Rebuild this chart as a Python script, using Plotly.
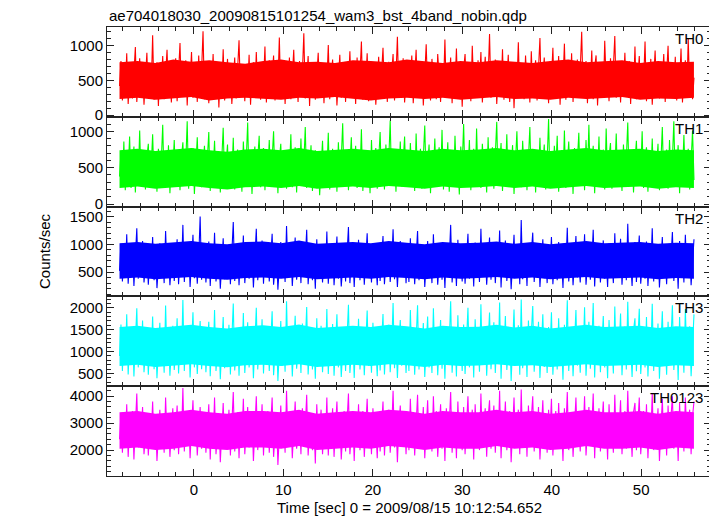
import plotly.graph_objects as go
from plotly.subplots import make_subplots

# Bin timing (evenly spaced light-curve bins, seconds)
t_start = -8.3
t_step = 0.1609
# Dense-core envelope, one value every ~2 s
env_step = 2.006

band_names = ["TH0", "TH1", "TH2", "TH3", "TH0123"]
band_colors = ["#ff0000", "#00ff00", "#0000ff", "#00ffff", "#ff00ff"]

th0 = [420, 780, 210, 650, 330, 890, 160, 560, 720, 240, 610, 980, 190, 470, 820, 280, 700, 150, 540, 900,
       260, 640, 370, 1150, 220, 580, 760, 130, 690, 410, 850, 230, 520, 940, 300, 610, 180, 730, 450, 820,
       200, 560, 1040, 270, 680, 350, 790, 140, 620, 480, 910, 250, 570, 700, 190, 860, 320, 640, 1210, 230,
       510, 770, 170, 600, 420, 880, 260, 530, 740, 110, 660, 390, 950, 210, 580, 810, 290, 690, 160, 520,
       830, 240, 620, 1080, 300, 560, 720, 200, 650, 380, 870, 150, 590, 760, 270, 910, 340, 530, 220, 700,
       450, 990, 180, 610, 790, 260, 540, 860, 210, 670, 430, 1120, 250, 580, 720, 160, 640, 370, 830, 230,
       560, 940, 290, 650, 190, 780, 420, 600, 1180, 240, 520, 850, 130, 690, 360, 760, 220, 610, 900, 280,
       590, 730, 170, 640, 460, 1010, 230, 570, 800, 300, 680, 140, 620, 870, 250, 540, 760, 190, 660, 410,
       920, 270, 600, 710, 160, 830, 350, 580, 1060, 220, 640, 480, 890, 200, 560, 740, 290, 680, 150, 610,
       840, 240, 530, 970, 310, 650, 190, 770, 420, 600, 880, 210, 560, 1130, 270, 690, 380, 820, 180, 520,
       300, 720, 480, 860, 170, 590, 940, 260, 650, 390, 780, 140, 570, 1020, 330, 690, 210, 810, 460, 610,
       230, 880, 550, 190, 740, 360, 1090, 280, 620, 500, 830, 170, 700, 410, 960, 240, 580, 750, 120, 660,
       880, 310, 540, 720, 200, 1000, 380, 640, 260, 790, 450, 910, 180, 610, 840, 290, 530, 1170, 250, 680,
       420, 800, 160, 570, 730, 340, 950, 220, 660, 480, 870, 190, 590, 760, 100, 640, 400, 1050, 270, 560,
       710, 230, 860, 440, 620, 180, 920, 350, 580, 790, 210, 690, 1110, 260, 540, 830, 300, 650, 170, 770,
       520, 970, 240, 610, 380, 850, 150, 700, 460, 1030, 220, 590, 740, 310, 890, 190, 630, 510, 800, 250,
       660, 1200, 280, 540, 780, 170, 620, 430, 930, 230, 690, 860, 140, 570, 350, 760, 260, 1070, 470, 600,
       200, 820, 390, 680, 1140, 250, 560, 740, 180, 650, 420, 900, 290, 610, 780, 160, 710, 340, 990, 230,
       580, 850, 270, 630, 470, 1060, 200, 690, 370, 810, 150, 540, 930, 320, 660, 240, 770, 500, 880, 190,
       620, 1000, 260, 570, 720, 330, 840, 210, 650, 450, 960, 180, 600, 790, 280, 1100, 360, 700, 230, 540]

th1 = [380, 720, 250, 860, 190, 610, 450, 930, 220, 570, 790, 160, 680, 340, 1010, 270, 590, 740, 200, 650,
       830, 230, 510, 960, 300, 620, 170, 760, 410, 580, 1090, 240, 690, 360, 810, 150, 600, 470, 880, 260,
       540, 700, 190, 640, 850, 280, 560, 1140, 210, 620, 390, 770, 140, 590, 920, 310, 670, 230, 540, 800,
       250, 610, 990, 180, 660, 430, 870, 270, 530, 720, 160, 640, 1050, 290, 580, 820, 220, 700, 380, 910,
       200, 560, 750, 330, 640, 170, 860, 420, 600, 1120, 260, 690, 140, 580, 790, 310, 620, 940, 230, 510,
       770, 190, 650, 400, 880, 240, 560, 1000, 300, 680, 150, 610, 830, 270, 570, 720, 210, 640, 450, 960,
       230, 590, 780, 160, 700, 350, 900, 260, 550, 1060, 220, 630, 480, 810, 180, 600, 740, 290, 660, 120,
       570, 870, 250, 620, 410, 980, 200, 580, 760, 300, 690, 170, 850, 360, 610, 1110, 240, 560, 720, 190,
       640, 920, 280, 530, 800, 220, 670, 390, 1030, 180, 590, 740, 260, 630, 150, 880, 340, 600, 770, 210,
       560, 990, 300, 650, 200, 820, 430, 610, 1150, 250, 580, 710, 170, 690, 370, 860, 240, 540, 930, 280,
       610, 250, 840, 390, 700, 180, 970, 320, 590, 760, 210, 640, 1080, 280, 560, 820, 150, 690, 430, 900,
       240, 620, 780, 330, 1020, 200, 660, 470, 850, 170, 580, 730, 260, 940, 380, 610, 130, 790, 520, 1100,
       290, 650, 420, 880, 190, 600, 760, 250, 1040, 340, 690, 220, 830, 480, 570, 160, 920, 300, 640, 780,
       210, 710, 1130, 270, 560, 840, 180, 620, 390, 960, 240, 680, 510, 810, 140, 590, 1000, 320, 660, 230,
       870, 440, 600, 190, 750, 1060, 280, 540, 700, 160, 650, 380, 910, 250, 620, 820, 200, 580, 1170, 310,
       690, 230, 800, 470, 940, 170, 610, 740, 300, 1010, 220, 570, 860, 350, 680, 140, 770, 440, 590, 980,
       260, 630, 720, 190, 880, 410, 1090, 280, 560, 800, 150, 670, 360, 930, 240, 600, 750, 200, 1040, 330,
       650, 840, 210, 580, 460, 970, 270, 700, 540, 180, 820, 390, 620, 1120, 250, 660, 730, 160, 590, 870,
       300, 710, 430, 1000, 220, 640, 780, 170, 600, 350, 900, 260, 690, 520, 830, 190, 570, 1060, 280, 640,
       750, 210, 880, 370, 610, 1140, 240, 560, 810, 150, 680, 420, 950, 290, 620, 760, 200, 590, 1010, 330]

th2 = [520, 1010, 330, 840, 420, 1180, 290, 760, 610, 950, 250, 700, 1290, 380, 820, 460, 1060, 310, 690, 880,
       270, 750, 540, 1130, 350, 900, 210, 680, 1020, 400, 790, 300, 1240, 520, 860, 260, 710, 980, 340, 620,
       1090, 280, 730, 470, 1350, 320, 810, 600, 960, 230, 670, 1170, 390, 850, 290, 740, 1500, 360, 640, 910,
       310, 720, 1050, 250, 780, 440, 1210, 330, 690, 870, 200, 640, 1110, 370, 800, 520, 990, 280, 760, 1400,
       340, 680, 930, 260, 820, 480, 1160, 300, 710, 1030, 380, 640, 870, 220, 750, 1280, 350, 690, 560, 1070,
       290, 810, 420, 950, 330, 700, 1190, 270, 660, 880, 180, 730, 1040, 410, 790, 320, 1330, 460, 680, 920,
       250, 770, 1120, 360, 640, 850, 300, 1010, 440, 720, 1260, 280, 690, 910, 350, 780, 200, 1090, 500, 670,
       980, 310, 740, 420, 1230, 290, 810, 610, 1000, 260, 700, 1140, 380, 830, 240, 660, 960, 330, 750, 1310,
       300, 690, 870, 230, 790, 480, 1080, 350, 710, 940, 270, 640, 1200, 400, 820, 310, 1020, 560, 680, 260,
       900, 340, 760, 1150, 280, 700, 520, 990, 320, 650, 1270, 370, 800, 230, 730, 1060, 410, 690, 870, 300,
       760, 320, 1110, 450, 880, 280, 700, 1240, 350, 810, 560, 970, 230, 690, 1060, 390, 750, 300, 1180, 500,
       860, 270, 660, 1020, 360, 790, 210, 940, 480, 720, 1350, 310, 680, 850, 250, 1080, 420, 770, 330, 960,
       290, 720, 1190, 380, 640, 890, 240, 1030, 510, 760, 320, 1280, 430, 700, 920, 270, 810, 1120, 360, 660,
       980, 300, 740, 470, 1250, 220, 830, 600, 1070, 340, 690, 880, 190, 760, 1170, 410, 650, 950, 280, 1440,
       370, 700, 860, 250, 1010, 460, 780, 1210, 320, 680, 540, 990, 230, 740, 1090, 390, 820, 300, 920, 610,
       1130, 280, 710, 860, 350, 1040, 470, 760, 210, 950, 580, 1300, 330, 690, 870, 260, 800, 1150, 400, 640,
       310, 900, 520, 1180, 270, 740, 990, 360, 680, 1260, 240, 820, 450, 940, 310, 700, 1070, 380, 760, 230,
       1020, 490, 710, 300, 1200, 420, 860, 640, 1100, 270, 730, 930, 350, 1370, 460, 690, 250, 880, 1040, 320,
       770, 1160, 290, 660, 910, 380, 1050, 250, 720, 540, 1290, 330, 800, 600, 960, 220, 690, 1130, 410, 760,
       280, 990, 470, 740, 1220, 340, 670, 890, 200, 1060, 430, 790, 310, 1170, 520, 700, 940, 260, 820, 1090]

th3 = [900, 1620, 560, 1380, 720, 1850, 480, 1240, 1010, 1560, 430, 1150, 1990, 640, 1330, 800, 1710, 530, 1100, 1450,
       470, 1220, 880, 1800, 600, 1470, 390, 1090, 1660, 690, 1280, 520, 2050, 850, 1390, 450, 1160, 1590, 580, 1010,
       1760, 500, 1200, 760, 2180, 560, 1320, 980, 1540, 410, 1100, 1900, 640, 1400, 490, 1210, 1700, 600, 1050, 1480,
       530, 1170, 1680, 440, 1270, 720, 1950, 560, 1120, 1420, 370, 1060, 1790, 620, 1310, 860, 1610, 480, 1230, 2100,
       570, 1110, 1510, 450, 1340, 790, 1880, 510, 1160, 1670, 640, 1050, 1430, 390, 1220, 2000, 590, 1130, 920, 1740,
       500, 1310, 700, 1560, 560, 1140, 1920, 460, 1080, 1440, 330, 1190, 1700, 680, 1290, 540, 2150, 770, 1110, 1500,
       430, 1250, 1820, 610, 1050, 1390, 510, 1640, 740, 1170, 2020, 480, 1120, 1480, 590, 1270, 380, 1760, 830, 1090,
       1590, 530, 1200, 710, 1970, 490, 1310, 1000, 1630, 450, 1140, 1850, 640, 1350, 420, 1080, 1550, 560, 1220, 2070,
       510, 1120, 1420, 400, 1290, 790, 1750, 590, 1160, 1530, 460, 1050, 1940, 670, 1330, 520, 1660, 920, 1110, 440,
       1460, 570, 1240, 1860, 480, 1140, 860, 1610, 530, 1070, 2110, 620, 1300, 400, 1190, 1720, 680, 1120, 1420, 510,
       1300, 560, 1950, 780, 1480, 470, 1190, 2060, 590, 1370, 950, 1650, 420, 1150, 1800, 640, 1260, 510, 1990, 860,
       1450, 460, 1120, 1720, 610, 1340, 380, 1580, 810, 1210, 2150, 520, 1160, 1430, 430, 1830, 700, 1300, 560, 1620,
       490, 1220, 2000, 640, 1080, 1510, 410, 1740, 860, 1280, 540, 2080, 720, 1190, 1560, 450, 1370, 1890, 600, 1110,
       1670, 510, 1250, 790, 2120, 380, 1400, 1010, 1810, 580, 1170, 1490, 330, 1290, 1960, 690, 1100, 1600, 470, 2190,
       620, 1180, 1450, 420, 1710, 780, 1320, 2040, 540, 1150, 920, 1680, 400, 1260, 1850, 650, 1390, 510, 1560, 1030,
       1900, 470, 1200, 1470, 590, 1760, 800, 1290, 360, 1610, 980, 2170, 560, 1170, 1480, 440, 1350, 1950, 680, 1090,
       520, 1530, 870, 2010, 450, 1250, 1680, 610, 1140, 2110, 410, 1380, 760, 1590, 530, 1190, 1810, 640, 1280, 390,
       1720, 830, 1210, 500, 2030, 710, 1460, 1080, 1870, 460, 1240, 1570, 590, 2140, 780, 1170, 420, 1490, 1760, 550,
       1300, 1980, 490, 1120, 1540, 640, 1790, 430, 1230, 920, 2090, 560, 1350, 1010, 1640, 380, 1180, 1920, 690, 1280,
       470, 1680, 800, 1260, 2060, 580, 1140, 1500, 350, 1790, 730, 1330, 520, 1970, 880, 1190, 1580, 440, 1380, 1850]

th0123 = [2400, 3300, 1900, 3050, 2200, 3700, 1750, 2900, 2550, 3450, 1650, 2800, 4100, 2100, 3150, 2350, 3600, 1850, 2700, 3250,
          1800, 2950, 2450, 3800, 2050, 3200, 1600, 2750, 3500, 2250, 3000, 1900, 3950, 2400, 3300, 1750, 2850, 3550, 2000, 2650,
          3650, 1850, 2900, 2300, 4300, 1950, 3100, 2600, 3400, 1700, 2800, 3850, 2150, 3250, 1800, 2950, 3600, 2050, 2700, 3350,
          1900, 2850, 3700, 1650, 3050, 2250, 3950, 1850, 2750, 3300, 1550, 2700, 3750, 2100, 3150, 2400, 3500, 1800, 2900, 4150,
          1950, 2800, 3400, 1700, 3200, 2350, 3900, 1850, 2850, 3600, 2100, 2700, 3300, 1600, 2950, 4000, 2000, 2800, 2500, 3700,
          1800, 3100, 2200, 3450, 1900, 2850, 3950, 1750, 2700, 3300, 1450, 2900, 3650, 2150, 3050, 1900, 4200, 2300, 2800, 3400,
          1700, 3000, 3800, 2050, 2700, 3250, 1850, 3550, 2250, 2850, 4050, 1800, 2750, 3350, 2000, 3050, 1500, 3700, 2400, 2750,
          3500, 1850, 2900, 2200, 3950, 1800, 3100, 2600, 3550, 1750, 2850, 3800, 2100, 3200, 1650, 2700, 3450, 1950, 2950, 4100,
          1850, 2800, 3300, 1600, 3100, 2300, 3700, 2000, 2850, 3450, 1750, 2700, 3900, 2150, 3150, 1850, 3550, 2500, 2800, 1700,
          3350, 1950, 3000, 3800, 1800, 2850, 2400, 3500, 1900, 2700, 4200, 2100, 3100, 1550, 2900, 3650, 2150, 2800, 3300, 1850,
          3150, 2000, 3900, 2350, 3400, 1800, 2850, 4050, 2100, 3250, 2600, 3600, 1700, 2900, 3850, 2150, 3100, 1950, 4000, 2450,
          3450, 1750, 2800, 3700, 2050, 3200, 1600, 3550, 2350, 2950, 4150, 1900, 2850, 3400, 1700, 3800, 2250, 3100, 2000, 3600,
          1850, 2950, 4000, 2100, 2750, 3500, 1650, 3700, 2400, 3050, 2000, 4100, 2300, 2850, 3550, 1750, 3200, 3850, 2050, 2750,
          3650, 1900, 3000, 2350, 4200, 1700, 3250, 2650, 3800, 2000, 2850, 3450, 1550, 3050, 3950, 2200, 2750, 3500, 1850, 4250,
          2150, 2900, 3400, 1750, 3650, 2350, 3150, 4000, 1950, 2850, 2550, 3600, 1650, 3000, 3850, 2100, 3250, 1900, 3500, 2650,
          3900, 1800, 2950, 3450, 2050, 3750, 2400, 3100, 1600, 3550, 2700, 4150, 2000, 2900, 3400, 1750, 3200, 3950, 2250, 2800,
          1950, 3450, 2550, 4000, 1800, 3000, 3600, 2150, 2850, 4100, 1700, 3300, 2350, 3550, 1950, 2900, 3800, 2100, 3150, 1650,
          3700, 2400, 2950, 1900, 4050, 2250, 3350, 2750, 3850, 1850, 3000, 3450, 2050, 4200, 2400, 2900, 1750, 3400, 3750, 2000,
          3100, 3950, 1850, 2850, 3450, 2150, 3700, 1700, 3000, 2500, 4100, 2000, 3200, 2700, 3550, 1600, 2900, 3900, 2250, 3150,
          1800, 3650, 2400, 3050, 4000, 2050, 2850, 3400, 1600, 3750, 2300, 3150, 1950, 3950, 2550, 2950, 3500, 1850, 3250, 3800]

# Dense-core envelopes (lower / upper edge of the solid band), one value per ~2 s
core_lo = [
    [230, 250, 220, 240, 260, 210, 240, 250, 230, 220, 250, 240, 260, 230, 210, 240, 250, 230, 250, 220, 240, 260, 230, 240, 220, 250, 230, 240, 260, 220, 240, 230, 250],
    [220, 240, 210, 230, 250, 220, 200, 230, 240, 220, 250, 210, 230, 240, 220, 250, 230, 210, 240, 220, 230, 250, 220, 240, 210, 230, 250, 220, 230, 240, 210, 230, 220],
    [380, 400, 370, 390, 410, 380, 360, 390, 400, 380, 410, 370, 390, 400, 380, 410, 390, 370, 400, 380, 390, 410, 380, 400, 370, 390, 410, 380, 390, 400, 370, 390, 380],
    [670, 700, 650, 680, 710, 670, 640, 690, 700, 670, 710, 650, 680, 700, 670, 710, 690, 650, 700, 670, 680, 710, 670, 690, 650, 680, 710, 670, 680, 700, 650, 690, 670],
    [2050, 2100, 2000, 2050, 2150, 2050, 2000, 2100, 2100, 2050, 2150, 2000, 2050, 2100, 2050, 2150, 2100, 2000, 2100, 2050, 2050, 2150, 2050, 2100, 2000, 2050, 2150, 2050, 2050, 2100, 2000, 2100, 2050],
]
core_hi = [
    [760, 780, 750, 800, 770, 790, 760, 740, 780, 800, 760, 770, 750, 790, 780, 760, 800, 770, 750, 780, 760, 790, 770, 750, 780, 800, 760, 770, 790, 750, 780, 760, 770],
    [740, 760, 730, 750, 770, 740, 720, 750, 760, 740, 770, 730, 750, 760, 740, 770, 750, 730, 760, 740, 750, 770, 740, 760, 730, 750, 770, 740, 750, 760, 730, 750, 740],
    [1020, 1040, 1010, 1030, 1060, 1020, 1000, 1040, 1050, 1020, 1070, 1010, 1030, 1040, 1020, 1060, 1030, 1000, 1040, 1020, 1030, 1050, 1010, 1040, 1000, 1030, 1060, 1020, 1030, 1040, 1010, 1030, 1020],
    [1560, 1590, 1540, 1570, 1610, 1560, 1530, 1580, 1600, 1560, 1620, 1540, 1570, 1590, 1560, 1610, 1580, 1530, 1590, 1560, 1570, 1610, 1550, 1590, 1530, 1570, 1610, 1560, 1570, 1590, 1540, 1580, 1560],
    [3400, 3450, 3350, 3400, 3500, 3400, 3350, 3450, 3450, 3400, 3500, 3350, 3400, 3450, 3400, 3500, 3450, 3350, 3450, 3400, 3400, 3500, 3400, 3450, 3350, 3400, 3500, 3400, 3400, 3450, 3350, 3450, 3400],
]

series = [th0, th1, th2, th3, th0123]
y_ranges = [[-25, 1270], [-35, 1200], [60, 1680], [210, 2260], [1040, 4370]]
y_minor = [100, 100, 100, 100, 200]
y_tickvals = [[0, 500, 1000], [0, 500, 1000], [500, 1000, 1500], [500, 1000, 1500, 2000], [2000, 3000, 4000]]

x_range = [-9.7, 57.8]

FONT = "Liberation Sans, Arial, sans-serif"

fig = make_subplots(rows=5, cols=1, shared_xaxes=True, vertical_spacing=0)

for i, (vals, name, col) in enumerate(zip(series, band_names, band_colors)):
    te = [t_start + k * env_step for k in range(len(core_lo[i]))]
    fig.add_trace(go.Scatter(x=te, y=core_lo[i], mode="lines", line=dict(color=col, width=0),
                             hoverinfo="skip", showlegend=False), row=i + 1, col=1)
    fig.add_trace(go.Scatter(x=te, y=core_hi[i], mode="lines", line=dict(color=col, width=0),
                             fill="tonexty", fillcolor=col, hoverinfo="skip", showlegend=False),
                  row=i + 1, col=1)
    t = [t_start + k * t_step for k in range(len(vals))]
    fig.add_trace(go.Scatter(x=t, y=vals, mode="lines", line=dict(color=col, width=1.1),
                             name=name, showlegend=False), row=i + 1, col=1)

axis_common = dict(showline=True, linecolor="#222", linewidth=1, mirror="ticks",
                   ticks="inside", tickcolor="#222", tickwidth=1, showgrid=False, zeroline=False,
                   tickfont=dict(family=FONT, size=15, color="black"))

for i in range(5):
    fig.update_yaxes(range=y_ranges[i], tickvals=y_tickvals[i], ticklen=7,
                     minor=dict(dtick=y_minor[i], ticklen=4, ticks="inside", tickcolor="#222", showgrid=False),
                     row=i + 1, col=1, **axis_common)
    fig.update_xaxes(range=x_range, dtick=10, tick0=0, ticklen=7,
                     minor=dict(dtick=2, ticklen=4, ticks="inside", tickcolor="#222", showgrid=False),
                     showticklabels=(i == 4), row=i + 1, col=1, **axis_common)

annotations = []
for i, name in enumerate(band_names):
    yref = "y domain" if i == 0 else f"y{i + 1} domain"
    annotations.append(dict(text=name, x=1, y=1, xref="paper", yref=yref, xanchor="right", yanchor="top",
                            xshift=-6, yshift=-1, showarrow=False,
                            font=dict(family=FONT, size=15, color="black")))

annotations.append(dict(text="ae704018030_20090815101254_wam3_bst_4band_nobin.qdp", x=0, y=1,
                        xref="paper", yref="paper", xanchor="left", yanchor="bottom", yshift=1,
                        showarrow=False, font=dict(family=FONT, size=15, color="black")))
annotations.append(dict(text="Time [sec] 0 = 2009/08/15 10:12:54.652", x=0.5, y=0,
                        xref="paper", yref="paper", xanchor="center", yanchor="top", yshift=-21,
                        showarrow=False, font=dict(family=FONT, size=15, color="black")))
annotations.append(dict(text="Counts/sec", x=0, y=0.5, xref="paper", yref="paper", textangle=-90,
                        xanchor="right", yanchor="middle", xshift=-52,
                        showarrow=False, font=dict(family=FONT, size=15, color="black")))

# The page body adds an 8px offset, so the figure is sized/margined to compensate.
fig.update_layout(width=709, height=508, margin=dict(l=99, r=6, t=19, b=40),
                  paper_bgcolor="white", plot_bgcolor="white", annotations=annotations,
                  font=dict(family=FONT, size=15, color="black"))

fig.write_html("out.html")
